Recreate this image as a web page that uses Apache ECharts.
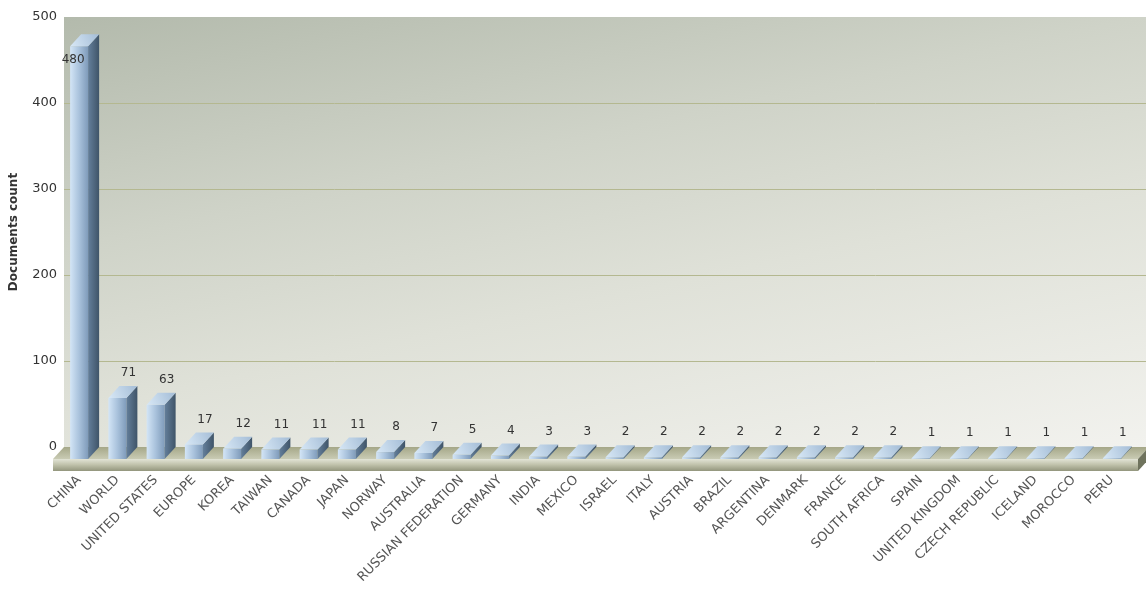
<!DOCTYPE html>
<html>
<head>
<meta charset="utf-8">
<script src="https://cdn.jsdelivr.net/npm/echarts@6/dist/echarts.min.js"></script>
<style>
html,body{margin:0;padding:0;background:#fff;}
#c{width:1146px;height:593px;}
</style>
</head>
<body>
<div id="c"></div>
<script>
var categories = ['CHINA','WORLD','UNITED STATES','EUROPE','KOREA','TAIWAN','CANADA','JAPAN','NORWAY','AUSTRALIA','RUSSIAN FEDERATION','GERMANY','INDIA','MEXICO','ISRAEL','ITALY','AUSTRIA','BRAZIL','ARGENTINA','DENMARK','FRANCE','SOUTH AFRICA','SPAIN','UNITED KINGDOM','CZECH REPUBLIC','ICELAND','MOROCCO','PERU'];
var values = [480,71,63,17,12,11,11,11,8,7,5,4,3,3,2,2,2,2,2,2,2,2,1,1,1,1,1,1];
var yTicks = [0,100,200,300,400,500];
var yAxisName = 'Documents count';

var DX = 11, DY = 12, HALF = 9;
var FONT = 'DejaVu Sans, Verdana, sans-serif';

function lin(x,y,x2,y2,stops){
  return {type:'linear',x:x,y:y,x2:x2,y2:y2,colorStops:stops.map(function(s){return {offset:s[0],color:s[1]};})};
}

function renderWall(params, api){
  var cs = params.coordSys;
  var y0 = api.coord([0,0])[1];
  var yTop = api.coord([0, yTicks[yTicks.length-1]])[1];
  var wl = cs.x + 4, wr = 1146;
  var children = [];
  children.push({type:'rect', shape:{x:wl, y:yTop, width:wr-wl, height:y0-yTop},
    style:{fill: lin(0,0,0.125,1.47,[[0,'#b3baac'],[0.35,'#cfd3c8'],[0.6,'#dfe1d8'],[1,'#f2f2ee']])}});
  for (var i=1;i<yTicks.length-1;i++){
    var yy = Math.round(api.coord([0,yTicks[i]])[1])+0.5;
    children.push({type:'line', shape:{x1:wl,y1:yy,x2:wr,y2:yy}, style:{stroke:'#b4b890', lineWidth:1}});
  }
  var fl = cs.x - 7, fr = 1138;
  children.push({type:'polygon', shape:{points:[[fl,y0+DY],[fl+DX,y0],[fr+DX,y0],[fr,y0+DY]]},
    style:{fill: lin(0,0,0,1,[[0,'#a5a788'],[1,'#c9cbb4']])}});
  children.push({type:'rect', shape:{x:fl, y:y0+DY, width:fr-fl, height:12},
    style:{fill: lin(0,0,0,1,[[0,'#e2e4d6'],[0.45,'#c2c4ad'],[1,'#93967d']])}});
  children.push({type:'polygon', shape:{points:[[fr,y0+DY],[fr+DX,y0],[fr+DX,y0+12],[fr,y0+DY+12]]},
    style:{fill:'#6f735d'}});
  return {type:'group', children:children};
}

function renderBar(params, api){
  var cs = params.coordSys;
  var idx = api.value(0);
  var v = api.value(1);
  var p = api.coord([idx, v]);
  var p0 = api.coord([idx, 0]);
  var cx = p[0];
  var ft = p[1] + DY, fb = p0[1] + DY;
  var l = cx - HALF, r = cx + HALF;
  var children = [];
  children.push({type:'rect', shape:{x:l, y:ft, width:r-l, height:Math.max(fb-ft,0)},
    style:{fill: lin(0,0,1,0,[[0,'#d3e5f6'],[0.5,'#a9c2dc'],[1,'#7f9bba']])}});
  children.push({type:'polygon', shape:{points:[[r,ft],[r+DX,ft-DY],[r+DX,fb-DY],[r,fb]]},
    style:{fill: lin(0,0,1,0,[[0,'#647f9b'],[1,'#3f5468']])}});
  children.push({type:'polygon', shape:{points:[[l,ft],[r,ft],[r+DX,ft-DY],[l+DX,ft-DY]]},
    style:{fill: lin(0,1,1,0,[[0,'#d8e8f6'],[1,'#a3bcd6']])}});
  var lx = cx + DX, ly = p[1] - 13;
  if (ly < cs.y + 12) { lx = cx - 6; ly = ft + 14; }
  children.push({type:'text', style:{text:String(v), x:lx, y:ly, align:'center', verticalAlign:'middle',
    font:'12px ' + FONT, fill:'#333'}});
  return {type:'group', children:children};
}

var chart = echarts.init(document.getElementById('c'));
chart.setOption({
  animation:false,
  backgroundColor:'#fff',
  grid:{left:58, right:15, top:17, bottom:146, containLabel:false},
  xAxis:{type:'category', data:categories, boundaryGap:true,
    axisLine:{show:false}, axisTick:{show:false}, splitLine:{show:false},
    axisLabel:{interval:0, rotate:45, margin:31, fontSize:13, color:'#555', fontFamily:FONT}},
  yAxis:{type:'value', min:yTicks[0], max:yTicks[yTicks.length-1], interval:100,
    name:yAxisName, nameLocation:'middle', nameGap:40,
    nameTextStyle:{fontSize:12, fontWeight:'bold', color:'#333', fontFamily:FONT},
    axisLine:{show:false}, axisTick:{show:false}, splitLine:{show:false},
    axisLabel:{margin:3, fontSize:13, color:'#333', fontFamily:FONT}},
  series:[
    {type:'custom', z:-1, silent:true, clip:false, renderItem:renderWall, data:[[0,0]]},
    {type:'custom', z:3, silent:true, clip:false, renderItem:renderBar,
      data: values.map(function(v,i){return [i,v];})}
  ]
});
</script>
</body>
</html>
